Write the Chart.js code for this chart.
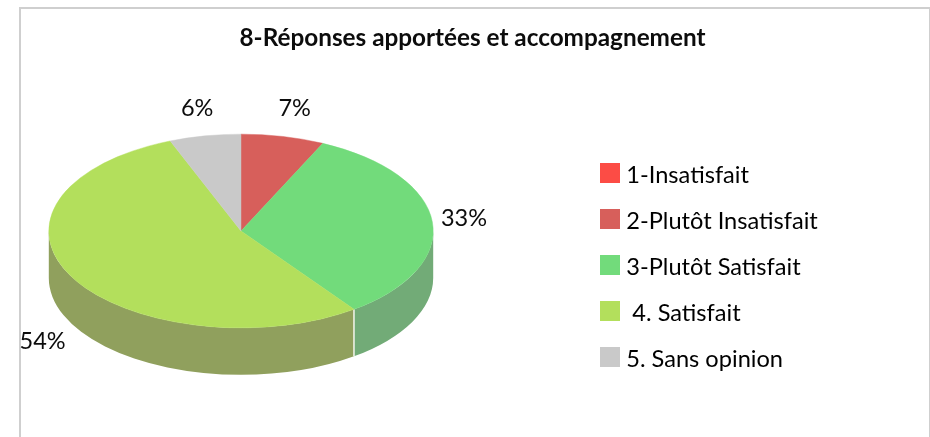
<!DOCTYPE html>
<html lang="fr">
<head>
<meta charset="utf-8">
<title>8-Réponses apportées et accompagnement</title>
<script src="https://cdn.jsdelivr.net/npm/chart.js@4"></script>
<style>
html,body{margin:0;padding:0;background:#fff;overflow:hidden;width:930px;height:437px}
#frame{position:absolute;left:19px;top:7px;width:908px;height:480px;border:2px solid #cfcfcf;box-sizing:content-box}
#c{position:absolute;left:0;top:0}
</style>
</head>
<body>
<div id="frame"></div>
<canvas id="c" width="930" height="437"></canvas>
<script>
const chartTitle = "8-Réponses apportées et accompagnement";
const categories = ["1-Insatisfait", "2-Plutôt Insatisfait", "3-Plutôt Satisfait", " 4. Satisfait", "5. Sans opinion"];
const values = [0, 7, 33, 54, 6];
const topColors = ["#fc4c45", "#d75f5b", "#72db7b", "#b3df5c", "#c9c9c9"];
const sideColors = ["#b8423d", "#a64f4c", "#72ab77", "#90a05d", "#9a9a9a"];
const labelNudgeX = [0, 5, 1, -3, -2];
const labelNudgeY = [0, 0, -1, 3, 1];

const TILT = 97 / 192.5;   // vertical squash of the disc
const DEPTH = 47;          // thickness in screen pixels
const FONT = "Lato, 'Open Sans', sans-serif";
const LEGEND_SIZE = 23.6;

// legend swatch: a 20px square sitting 2.5px above the text's centre line
function swatch(color) {
  const cv = document.createElement("canvas");
  cv.width = 20; cv.height = 25;
  const g = cv.getContext("2d");
  g.fillStyle = color;
  g.fillRect(0, 0, 20, 20);
  return cv;
}

const layoutPlugin = {
  id: "layoutPlugin",
  afterLayout(chart) {
    // square plot area around the disc; it is squashed when drawn
    const a = chart.chartArea;
    a.left = 48.5; a.right = 433.5; a.top = 38.5; a.bottom = 423.5;
    a.width = a.right - a.left; a.height = a.bottom - a.top;
    const lg = chart.legend;
    const pad = lg.options.labels.padding;
    const w = lg.width, h = lg.height;
    lg.left = 605.5 - pad; lg.right = lg.left + w;
    lg.top = 163.7 - pad; lg.bottom = lg.top + h;
  }
};

const pie3d = {
  id: "pie3d",
  beforeDatasetsDraw(chart) {
    const ctx = chart.ctx;
    const arcs = chart.getDatasetMeta(0).data;
    const cx = arcs[0].x, cy = arcs[0].y;
    ctx.save();
    ctx.translate(cx, cy);
    ctx.scale(1, TILT);
    ctx.translate(-cx, -cy);
    const d = DEPTH / TILT;
    arcs.forEach((arc, i) => {
      if (!values[i]) return;
      const p = arc.getProps(["x", "y", "startAngle", "endAngle", "outerRadius"], true);
      const a0 = Math.max(p.startAngle, 0);
      const a1 = Math.min(p.endAngle, Math.PI);
      if (a1 <= a0) return;
      ctx.beginPath();
      ctx.arc(p.x, p.y, p.outerRadius, a0, a1);
      ctx.lineTo(p.x + p.outerRadius * Math.cos(a1), p.y + d + p.outerRadius * Math.sin(a1));
      ctx.arc(p.x, p.y + d, p.outerRadius, a1, a0, true);
      ctx.closePath();
      ctx.fillStyle = sideColors[i];
      ctx.fill();
      if (a0 > 0) {
        // pale seam where two walls meet
        ctx.beginPath();
        const sx = p.x + p.outerRadius * Math.cos(a0), sy = p.y + p.outerRadius * Math.sin(a0);
        ctx.moveTo(sx, sy);
        ctx.lineTo(sx, sy + d);
        ctx.save();
        ctx.setTransform(1, 0, 0, 1, 0, 0);
        ctx.strokeStyle = "#f4f6ee";
        ctx.lineWidth = 1.5;
        ctx.stroke();
        ctx.restore();
      }
    });
  },
  afterDatasetsDraw(chart) {
    const ctx = chart.ctx;
    ctx.restore();
    const arcs = chart.getDatasetMeta(0).data;
    ctx.save();
    ctx.font = "23.5px " + FONT;
    ctx.fillStyle = "#0c0c0c";
    ctx.textAlign = "center";
    ctx.textBaseline = "middle";
    arcs.forEach((arc, i) => {
      if (!values[i]) return;
      const p = arc.getProps(["x", "y", "startAngle", "endAngle", "outerRadius"], true);
      const m = (p.startAngle + p.endAngle) / 2;
      const sinM = Math.sin(m);
      const x = p.x + Math.cos(m) * p.outerRadius * 1.16 + labelNudgeX[i];
      const y = p.y + sinM * p.outerRadius * TILT * 1.3 + (sinM > 0.3 ? DEPTH : 0) + labelNudgeY[i];
      ctx.fillText(values[i] + "%", x, y);
    });
    ctx.restore();
  }
};

new Chart(document.getElementById("c"), {
  type: "pie",
  data: {
    labels: categories,
    datasets: [{
      data: values,
      backgroundColor: topColors,
      borderColor: topColors,
      borderWidth: 0.6,
      clip: false
    }]
  },
  options: {
    responsive: false,
    animation: false,
    events: [],
    layout: { padding: { left: 16, right: 1 } },
    plugins: {
      tooltip: { enabled: false },
      title: {
        display: true,
        text: chartTitle,
        color: "#0c0c0c",
        font: { family: FONT, size: 24.3, weight: "bold", lineHeight: 1.2 },
        padding: { top: 23.4, bottom: 4 }
      },
      legend: {
        display: true,
        position: "right",
        align: "start",
        labels: {
          padding: 46 - LEGEND_SIZE,
          usePointStyle: true,
          pointStyleWidth: 9,
          boxHeight: 8,
          color: "#0c0c0c",
          font: { family: FONT, size: LEGEND_SIZE, lineHeight: 1.2 },
          generateLabels: () => categories.map((text, i) => ({
            text,
            index: i,
            fillStyle: topColors[i],
            strokeStyle: topColors[i],
            lineWidth: 0,
            pointStyle: swatch(topColors[i]),
            hidden: false
          }))
        }
      }
    }
  },
  plugins: [layoutPlugin, pie3d]
});
</script>
</body>
</html>
